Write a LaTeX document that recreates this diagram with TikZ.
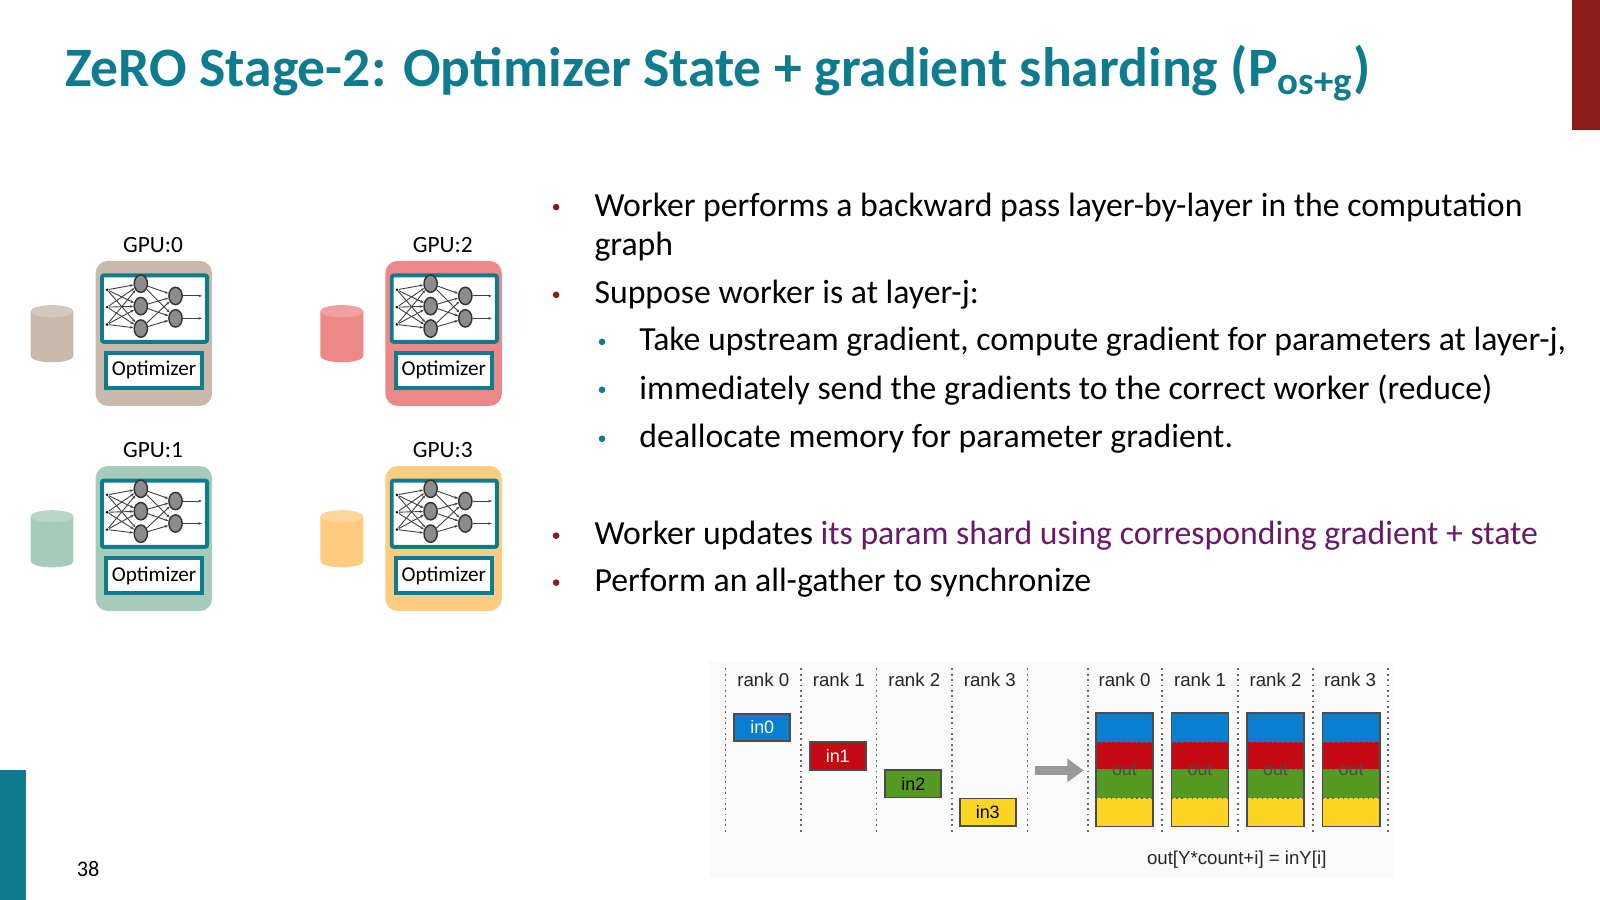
\documentclass[tikz,border=0pt]{standalone}
\usepackage{fontspec}
\setmainfont{Carlito}
\newfontfamily\arialf{Liberation Sans}
\usetikzlibrary{shapes.geometric,arrows.meta}
\definecolor{teal1}{HTML}{0E7C8E}
\definecolor{dred}{HTML}{8E1B1B}
\definecolor{purp}{HTML}{6A1868}
\definecolor{cTan}{HTML}{C9B9AA}
\definecolor{cPink}{HTML}{EC8888}
\definecolor{cGreen}{HTML}{A6CBBA}
\definecolor{cOrange}{HTML}{FDCC80}
\definecolor{agblue}{HTML}{0A7ED0}
\definecolor{agred}{HTML}{C50A14}
\definecolor{aggreen}{HTML}{559A22}
\definecolor{agyellow}{HTML}{FCD422}
\tikzset{
 bul/.style={anchor=west,font=\fontsize{9.4pt}{11pt}\selectfont,inner sep=0},
 dot/.style={circle,fill=#1,inner sep=0,minimum size=0.065cm},
 neu/.style={ellipse,draw=black!80,fill=black!45,line width=0.4pt,minimum width=0.13cm,minimum height=0.17cm,inner sep=0},
 inp/.style={circle,fill=black,inner sep=0,minimum size=0.028cm},
 edge/.style={draw=black!75,line width=0.25pt,-{Stealth[length=0.035cm,width=0.025cm]}},
 rank/.style={font=\arialf\fontsize{5.2pt}{6pt}\selectfont,text=black!85},
 inbox/.style={draw=black!70,line width=0.5pt,minimum width=0.55cm,minimum height=0.27cm,inner sep=0,font=\arialf\fontsize{5pt}{6pt}\selectfont},
 dline/.style={draw=black!60,densely dotted,line width=0.5pt},
}
\newcommand{\gpubox}[5]{%
 \begin{scope}[shift={(#1,#2)}]
  \node[draw=none,fill=#3,rounded corners=0.12cm,minimum width=1.14cm,minimum height=1.42cm,anchor=north west,inner sep=0] (#5box) at (0,0) {};
  \node[font=\fontsize{6.5pt}{7pt}\selectfont] (#5lab) at (57,-15) {#4};
  \node[draw=teal1,line width=1.1pt,fill=white,rounded corners=0.02cm,minimum width=1.03cm,minimum height=0.65cm,anchor=north west,inner sep=0] (#5net) at (5,13) {};
  \node[draw=teal1,line width=1.1pt,fill=white,minimum width=0.94cm,minimum height=0.34cm,anchor=north west,inner sep=0,font=\fontsize{5.9pt}{6pt}\selectfont] (#5opt) at (9,89) {Optimizer};
  \foreach \i/\y in {1/29,2/46,3/63}{\node[inp] (#5i\i) at (12,\y) {};}
  \foreach \i/\y in {1/23,2/45,3/67}{\node[neu] (#5h\i) at (45,\y) {};}
  \foreach \i/\y in {1/35,2/57}{\node[neu] (#5o\i) at (79,\y) {};}
  \foreach \a in {1,2,3}{\foreach \b in {1,2,3}{\draw[edge] (#5i\a) -- (#5h\b);}}
  \foreach \a in {1,2,3}{\foreach \b in {1,2}{\draw[edge] (#5h\a) -- (#5o\b);}}
  \coordinate (#5e1) at (105,35); \coordinate (#5e2) at (105,57);
  \draw[edge] (#5o1) -- (#5e1); \draw[edge] (#5o2) -- (#5e2);
  % cylinder
  \fill[#3] (-63,50) -- (-63,94) arc[x radius=21,y radius=-6,start angle=180,end angle=360] -- (-21,50) -- cycle;
  \fill[#3!80!white] (-42,50) ellipse[x radius=21,y radius=6];
 \end{scope}}
\begin{document}
\begin{tikzpicture}[x=0.01cm,y=-0.01cm]
\useasboundingbox (0,0) rectangle (1568,882);
\fill[white] (0,0) rectangle (1568,882);
% bars
\fill[dred] (1541,0) rectangle (1568,127);
\fill[teal1] (0,755) rectangle (25,882);
\node[font=\fontsize{6.2pt}{7pt}\selectfont,anchor=west] (pg) at (63,852) {38};
% title
\node[anchor=west,text=teal1,font=\bfseries\fontsize{15.5pt}{18pt}\selectfont,inner sep=0] (title) at (63,72) {ZeRO Stage-2: Optimizer State + gradient sharding (P\textsubscript{os+g})};
% GPUs
\gpubox{93}{255}{cTan}{GPU:0}{ga}
\gpubox{377}{255}{cPink}{GPU:2}{gc}
\gpubox{93}{456}{cGreen}{GPU:1}{gb}
\gpubox{377}{456}{cOrange}{GPU:3}{gd}
% bullets
\foreach \y in {203,289,525,571}{\node[dot=dred] at (545,\y) {};}
\foreach \y in {335,382,430}{\node[dot=teal1] at (590,\y) {};}
\node[bul] (b1) at (582,203) {Worker performs a backward pass layer-by-layer in the computation};
\node[bul] (b1b) at (582,242) {graph};
\node[bul] (b2) at (582,289) {Suppose worker is at layer-j:};
\node[bul] (s1) at (626,335) {Take upstream gradient, compute gradient for parameters at layer-j,};
\node[bul] (s2) at (626,382) {immediately send the gradients to the correct worker (reduce)};
\node[bul] (s3) at (626,430) {deallocate memory for parameter gradient.};
\node[bul] (b3) at (582,525) {Worker updates \textcolor{purp}{its param shard using corresponding gradient + state}};
\node[bul] (b4) at (582,571) {Perform an all-gather to synchronize};
% all-gather figure
\fill[black!2] (695,648) rectangle (1365,860);
\foreach \x in {711,785,859,933,1007,1066,1139,1213,1287,1360}{\draw[dline] (\x,655) -- (\x,818);}
\foreach \x/\t in {748/rank 0,822/rank 1,896/rank 2,970/rank 3,1102/rank 0,1176/rank 1,1250/rank 2,1323/rank 3}{\node[rank] at (\x,666) {\t};}
\node[inbox,fill=agblue,text=white] (in0) at (747,713) {in0};
\node[inbox,fill=agred,text=white] (in1) at (821,741) {in1};
\node[inbox,fill=aggreen,text=black] (in2) at (895,768) {in2};
\node[inbox,fill=agyellow,text=black] (in3) at (968,796) {in3};
\foreach \x [count=\k] in {1074,1148,1222,1296}{
 \fill[agblue] (\x,699) rectangle (\x+56,727);
 \fill[agred] (\x,727) rectangle (\x+56,754);
 \fill[aggreen] (\x,754) rectangle (\x+56,782);
 \fill[agyellow] (\x,782) rectangle (\x+56,810);
 \draw[densely dotted,black!60] (\x,727) -- (\x+56,727) (\x,754) -- (\x+56,754) (\x,782) -- (\x+56,782);
 \node[draw=black!70,line width=0.5pt,minimum width=0.56cm,minimum height=1.11cm,inner sep=0,font=\arialf\fontsize{5pt}{6pt}\selectfont,text=black!70] (out\k) at (\x+28,754.5) {out};
}
\coordinate (ar0) at (1014,755);
\coordinate (ar1) at (1062,755);
\draw[black!40,line width=0.09cm,-{Triangle[length=0.16cm,width=0.22cm]}] (ar0) -- (ar1);
\node[font=\arialf\fontsize{5.2pt}{6pt}\selectfont,text=black!85] (form) at (1212,842) {out[Y*count+i] = inY[i]};
\end{tikzpicture}
\end{document}
